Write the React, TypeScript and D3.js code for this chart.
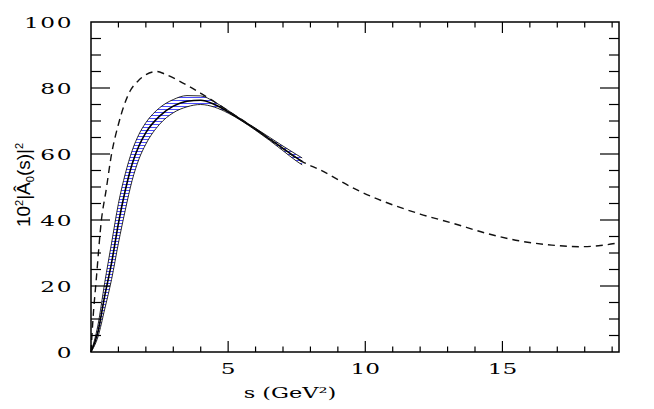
import React from 'react';
import * as d3 from 'd3';

// dashed curve (s in GeV^2, 10^2 |A0|^2)
const dashS = [0, 0.07, 0.19, 0.38, 0.55, 0.75, 1.0, 1.42, 1.7, 2.0, 2.4, 2.7, 3.2, 3.6, 4.0, 4.6, 5.1, 5.7, 6.9, 7.7, 8.35, 9.7, 12.0, 13.2, 14.4, 15.6, 16.8, 17.8, 18.5, 19.25];
const dashY = [0, 9.7, 21.8, 40, 49, 60, 69, 79, 82, 84, 85, 84.2, 82.2, 80.4, 78.4, 75.3, 72.5, 69.3, 62.2, 57.7, 55.2, 49.1, 41.8, 39, 36, 33.7, 32.4, 31.9, 32.2, 33.1];

// band (central value with upper / lower edges)
const bandS = [0, 0.25, 0.5, 0.75, 1.0, 1.25, 1.5, 1.75, 2.0, 2.5, 3.0, 3.5, 4.0, 4.5, 5.0, 5.5, 6.0, 6.5, 7.0, 7.5, 7.7];
const bandMid = [0, 6, 17, 27, 39, 49, 57, 62.5, 66.5, 71.5, 74.5, 76, 76.3, 75, 72.8, 70.2, 67.5, 64.6, 61.7, 58.8, 57.7];
const bandHi = [0, 8, 21, 33, 45, 54, 61, 66, 69.5, 74, 76.5, 77.7, 77.6, 75.8, 73.2, 70.4, 67.8, 65.1, 62.4, 59.8, 58.8];
const bandLo = [0, 4.5, 13, 22, 33, 43, 52, 58.5, 63, 69, 72.5, 74.3, 75, 74.2, 72.4, 70, 67.2, 64.2, 61, 57.8, 56.7];

const xTickLabels = [5, 10, 15];
const yTickLabels = [0, 20, 40, 60, 80, 100];
const xMinorTicks = d3.range(1, 20);
const yMinorTicks = d3.range(5, 100, 5);

const W = 654;
const H = 409;
const L = 91, R = 619, T = 22, B = 352;

export default function App() {
  const x = d3.scaleLinear().domain([0, 19.25]).range([L, R]);
  const y = d3.scaleLinear().domain([0, 100]).range([B, T]);

  const dashed = d3.line<number>()
    .x((_, i) => x(dashS[i]))
    .y((d) => y(d))
    .curve(d3.curveMonotoneX)(dashY) || '';

  const edge = (arr: number[]) => d3.line<number>()
    .x((_, i) => x(bandS[i]))
    .y((d) => y(d))
    .curve(d3.curveMonotoneX)(arr) || '';

  const area = d3.area<number>()
    .x((_, i) => x(bandS[i]))
    .y0((_, i) => y(bandLo[i]))
    .y1((_, i) => y(bandHi[i]))
    .curve(d3.curveMonotoneX)(bandMid) || '';

  const serif = { fontFamily: '"DejaVu Serif", serif', fontSize: 15 };

  return (
    <svg width={W} height={H} style={{ position: 'absolute', left: 0, top: 0, background: '#fff' }}>
      <defs>
        <pattern id="hatch" patternUnits="userSpaceOnUse" x={0} y={0} width={W} height={3}>
          <rect x={0} y={1} width={W} height={1} fill="#4a4aff" />
        </pattern>
      </defs>

      {/* band */}
      <path d={area} fill="url(#hatch)" stroke="none" />
      <path d={edge(bandHi)} fill="none" stroke="#111" strokeWidth={0.9} />
      <path d={edge(bandLo)} fill="none" stroke="#111" strokeWidth={0.9} />
      <path d={edge(bandMid)} fill="none" stroke="#000" strokeWidth={1.6} />

      {/* dashed curve */}
      <path d={dashed} fill="none" stroke="#111" strokeWidth={1.4} strokeDasharray="7,5" />

      {/* frame */}
      <rect x={L} y={T} width={R - L} height={B - T} fill="none" stroke="#000" strokeWidth={1.5} />

      {/* x ticks */}
      {xMinorTicks.map((t) => {
        const major = t % 5 === 0;
        const len = major ? 11 : 5.5;
        return (
          <g key={'x' + t} stroke="#000" strokeWidth={1.2}>
            <line x1={x(t)} x2={x(t)} y1={B} y2={B - len} />
            <line x1={x(t)} x2={x(t)} y1={T} y2={T + len} />
          </g>
        );
      })}
      {/* y ticks */}
      {yMinorTicks.map((t) => {
        const major = t % 20 === 0;
        const len = major ? 19 : 10;
        return (
          <g key={'y' + t} stroke="#000" strokeWidth={1.2}>
            <line x1={L} x2={L + len} y1={y(t)} y2={y(t)} />
            <line x1={R} x2={R - len} y1={y(t)} y2={y(t)} />
          </g>
        );
      })}

      {/* tick labels */}
      {xTickLabels.map((t) => (
        <text key={'xl' + t} transform={`translate(${x(t)},${374}) scale(1.55,1)`} textAnchor="middle" {...serif}>
          {t}
        </text>
      ))}
      {yTickLabels.map((t) => (
        <text key={'yl' + t} transform={`translate(73,${y(t) + 5.5}) scale(1.55,1)`} textAnchor="end" letterSpacing={1} {...serif}>
          {t}
        </text>
      ))}

      {/* axis titles */}
      <text transform={`translate(290,398) scale(1.5,1)`} textAnchor="middle" {...serif}>
        s (GeV²)
      </text>
      <text transform="translate(30,185) rotate(-90)" textAnchor="middle"
        style={{ fontFamily: '"Liberation Sans", Arial, sans-serif', fontSize: 19 }}>
        10<tspan dy={-7} fontSize={11}>2</tspan>
        <tspan dy={7}>|Â</tspan>
        <tspan dy={4} fontSize={11}>0</tspan>
        <tspan dy={-4}>(s)|</tspan>
        <tspan dy={-7} fontSize={11}>2</tspan>
      </text>
    </svg>
  );
}
